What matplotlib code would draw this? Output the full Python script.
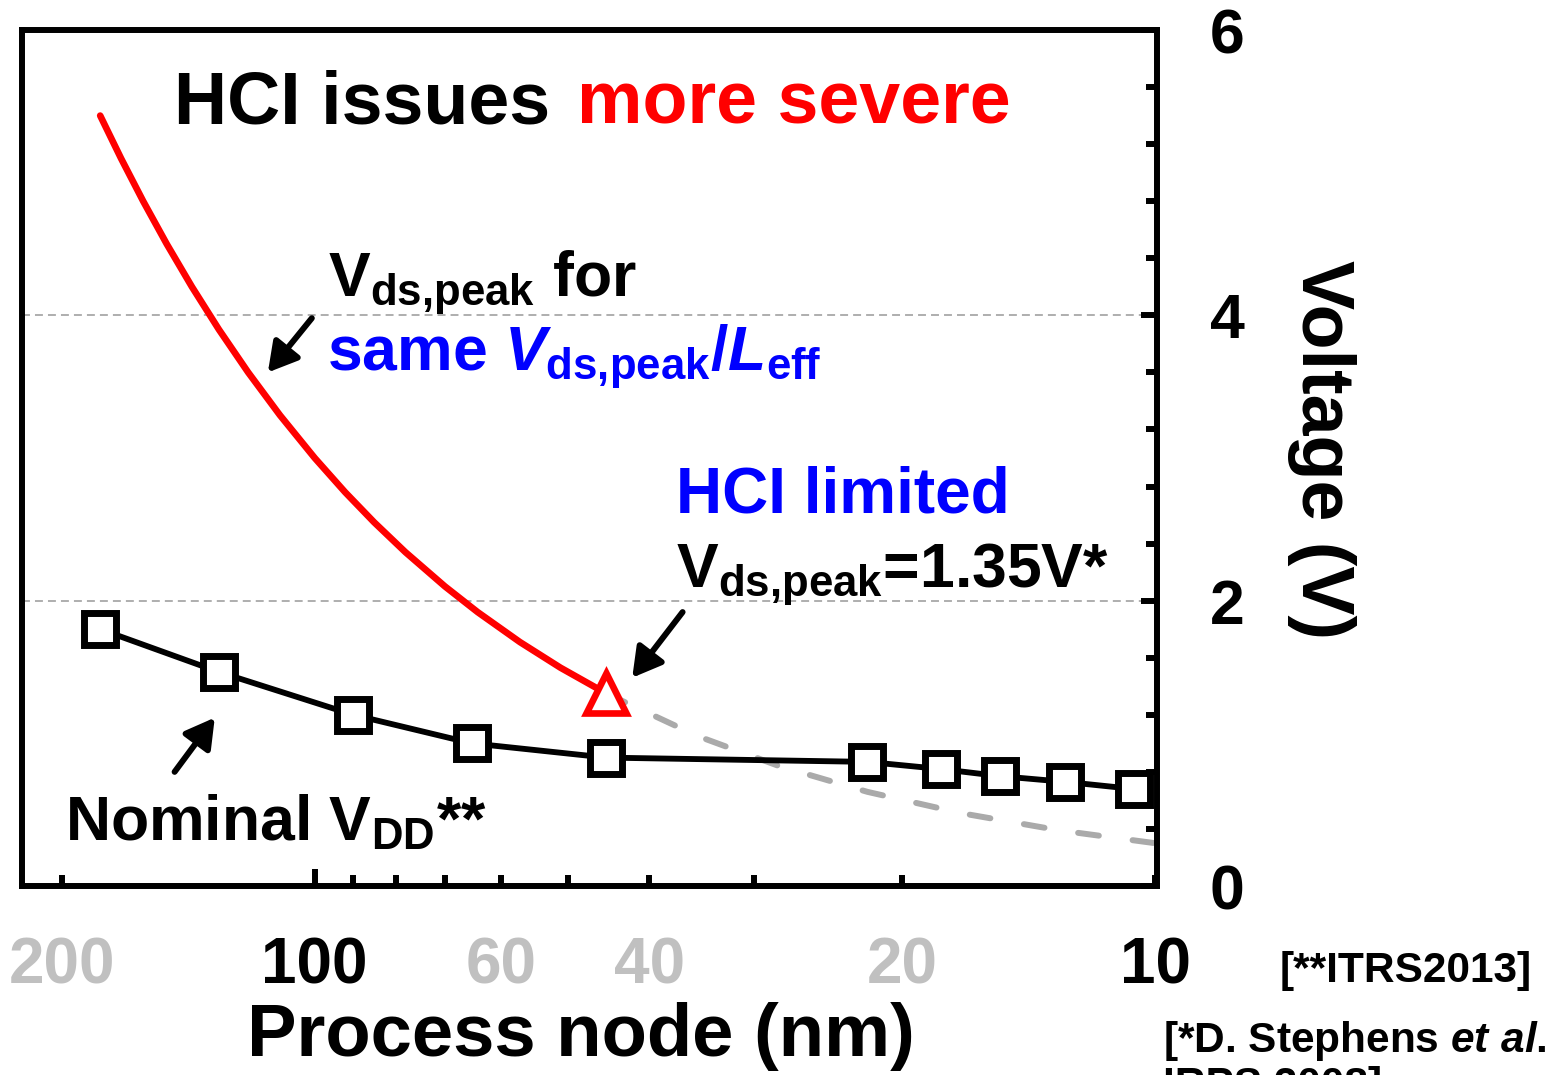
import matplotlib
matplotlib.use("Agg")
import matplotlib.pyplot as plt
from matplotlib.ticker import FixedLocator, NullFormatter, MultipleLocator

plt.rcParams['font.family'] = 'Liberation Sans'
plt.rcParams['font.weight'] = 'bold'
plt.rcParams['axes.labelweight'] = 'bold'
plt.rcParams['mathtext.fontset'] = 'custom'
plt.rcParams['mathtext.rm'] = 'Liberation Sans:bold'
plt.rcParams['mathtext.it'] = 'Liberation Sans:bold:italic'
plt.rcParams['mathtext.bf'] = 'Liberation Sans:bold'

# nominal VDD per process node (ITRS 2013)
node_nm = [180, 130, 90, 65, 45, 22, 18, 15.3, 12.8, 10.6]
vdd = [1.80, 1.50, 1.20, 1.00, 0.90, 0.87, 0.82, 0.77, 0.73, 0.68]

# Vds,peak for the same Vds,peak/Leff, down to the HCI limited node
peak_nm = [180, 170, 160, 150, 140, 130, 120, 110, 100, 92, 85, 78, 70, 64, 57, 51, 45]
peak_v = [5.40, 5.10, 4.80, 4.50, 4.20, 3.90, 3.60, 3.30, 3.00, 2.76, 2.55, 2.34,
          2.10, 1.92, 1.71, 1.53, 1.35]

# continued below 45 nm
ext_nm = [45, 35, 28, 22, 17, 13, 10]
ext_v = [1.35, 1.05, 0.84, 0.66, 0.51, 0.39, 0.30]

limit_nm = 45
limit_v = 1.35

xtick_vals = [200, 100, 60, 40, 20, 10]
xtick_grey = [True, False, True, True, True, False]
xminor_vals = [90, 80, 70, 50, 30]
ytick_vals = [0, 2, 4, 6]

W, H = 1547, 1075
fig = plt.figure(figsize=(W / 100, H / 100), dpi=100)
ax = fig.add_axes([22 / W, 1 - 886 / H, 1135 / W, 856 / H])

def fx(px):
    return px / W

def fy(py):
    return 1 - py / H

ax.set_xscale('log')
ax.set_xlim(223, 9.95)
ax.set_ylim(0, 6)

for y in [2, 4]:
    ax.axhline(y, color='#999999', lw=1.1, ls=(0, (5.2, 3.3)), zorder=1)

ax.plot(ext_nm, ext_v, color='#aaaaaa', lw=4.3, ls=(0, (3.5, 5.7)),
        dash_capstyle='round', zorder=2)
ax.plot(node_nm, vdd, color='black', lw=4.2, marker='s', ms=23.5, mew=5,
        mfc='white', mec='black', zorder=3)
ax.plot(peak_nm, peak_v, color='red', lw=4.8, solid_capstyle='round', zorder=4)
ax.plot([limit_nm], [limit_v], marker='^', ms=29, mew=4.8, mfc='white',
        mec='red', ls='none', zorder=5)

for s in ax.spines.values():
    s.set_linewidth(4.3)

# x axis: reversed log scale with grey/black labels
ax.xaxis.set_major_locator(FixedLocator(xtick_vals))
ax.set_xticklabels([str(v) for v in xtick_vals])
ax.xaxis.set_minor_locator(FixedLocator(xminor_vals))
ax.xaxis.set_minor_formatter(NullFormatter())
ax.tick_params(axis='x', which='both', direction='in', length=8, width=4.3,
               top=False, labelsize=46, pad=36)
for t, lab, grey in zip(ax.xaxis.get_major_ticks(), ax.get_xticklabels(), xtick_grey):
    lab.set_color('#c0c0c0' if grey else 'black')
    if lab.get_text() == '100':
        t.tick1line.set_markersize(12)

# y axis on the right
ax.yaxis.tick_right()
ax.set_yticks(ytick_vals)
ax.yaxis.set_minor_locator(MultipleLocator(0.4))
ax.tick_params(axis='y', which='major', direction='in', length=11.5, width=4.3,
               labelsize=45, pad=38, left=False, right=True)
ax.tick_params(axis='y', which='minor', direction='in', length=8, width=4.3,
               left=False, right=True)

ax.set_xlabel('Process node (nm)', fontsize=53.5)
ax.xaxis.set_label_coords((581 - 22) / 1135, -0.136)
ax.yaxis.set_label_position('right')
ax.set_ylabel('Voltage (V)', fontsize=53, rotation=-90)
ax.yaxis.label.set_va('center')
ax.yaxis.set_label_coords((1322 - 22) / 1135, (886 - 449) / 856)

# annotations
fig.text(fx(174), fy(123), 'HCI issues', fontsize=53, va='baseline')
fig.text(fx(577), fy(123), 'more severe', fontsize=53, va='baseline', color='red')

fig.text(fx(328), fy(296), r'V$_{\mathrm{ds{,}peak}}$ for', fontsize=45, va='baseline')
fig.text(fx(327), fy(370), r'same $\mathit{V}_{\mathrm{ds{,}peak}}\mathit{/L}_{\mathrm{eff}}$',
         fontsize=45, va='baseline', color='#0000ff')

fig.text(fx(676), fy(512), 'HCI limited', fontsize=46, va='baseline', color='#0000ff')
fig.text(fx(676), fy(587), r'V$_{\mathrm{ds{,}peak}}$=1.35V*', fontsize=45, va='baseline')

fig.text(fx(65), fy(840), r'Nominal V$_{\mathrm{DD}}$**', fontsize=45, va='baseline')

fig.text(fx(1280), fy(982), '[**ITRS2013]', fontsize=30.5, va='baseline')
fig.text(fx(1163), fy(1052), r'[*D. Stephens $\mathit{et\ al}$.', fontsize=30.5, va='baseline')
fig.text(fx(1163), fy(1097), 'IRPS 2008]', fontsize=30.5, va='baseline')

arrow = dict(arrowstyle='-|>,head_length=0.7,head_width=0.4', lw=4.3, color='black',
             shrinkA=0, shrinkB=0, mutation_scale=25)
ax.annotate('', xy=(113.7, 3.60), xytext=(100.8, 3.98), arrowprops=arrow)
ax.annotate('', xy=(131.5, 1.18), xytext=(146.8, 0.80), arrowprops=arrow)
ax.annotate('', xy=(41.9, 1.46), xytext=(36.5, 1.92), arrowprops=arrow)

fig.savefig('out.png', dpi=100)
